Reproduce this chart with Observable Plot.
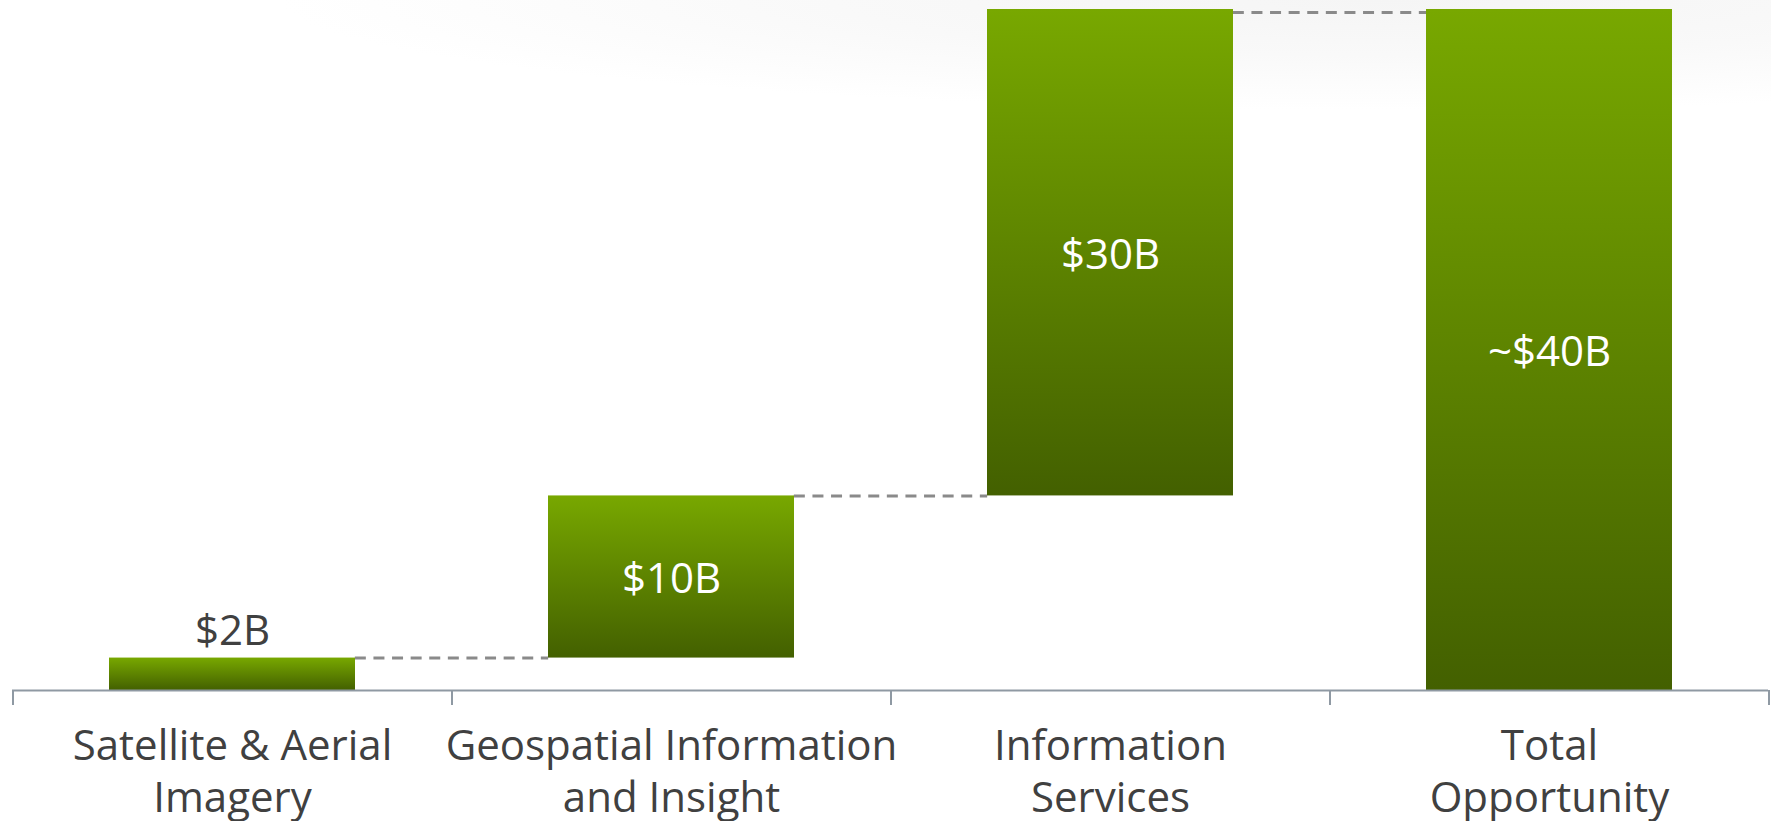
<!DOCTYPE html>
<html><head><meta charset="utf-8">
<script src="https://cdn.jsdelivr.net/npm/d3@7"></script>
<script src="https://cdn.jsdelivr.net/npm/@observablehq/plot@0.6"></script>
<style>
html,body{margin:0;padding:0;background:#fff;}
#chart{width:1771px;height:821px;background: radial-gradient(ellipse 1100px 110px at 78% 0px, #f5f5f5 0%, #f9f9f9 50%, rgba(255,255,255,0) 100%), #fff;}
#chart svg{display:block;}
</style></head><body><div id="chart"></div>
<script>
// ---- data ----
const categories = ["Satellite & Aerial\nImagery", "Geospatial Information\nand Insight", "Information\nServices", "Total\nOpportunity"];
const segmentValues = [2, 10, 30];
const totalValue = 42;
const valueLabels = ["$2B", "$10B", "$30B", "~$40B"];

// ---- layout / style ----
const W = 1771, H = 821, mT = 9, mB = 131, mL = 12, mR = 3;
const padInner = 0.44;
const step = (W - mL - mR) / categories.length;
const bandW = step * (1 - padInner);
const textColor = "#404040";
const fontSize = 42;
const axisColor = "#8f99a3";

// build waterfall rows
let run = 0;
const rows = segmentValues.map((v, i) => {
  const r = {cat: categories[i], y1: run, y2: run + v, label: valueLabels[i]};
  run += v;
  return r;
});
rows.push({cat: categories[3], y1: 0, y2: totalValue, label: valueLabels[3]});

const connectors = rows.slice(0, -1).map((r, i) => ({from: r.cat, to: rows[i + 1].cat, level: r.y2}));
const lowConnectors = connectors.filter(c => c.level < totalValue);
const topConnectors = connectors.filter(c => c.level >= totalValue);
const insideRows = rows.filter(r => r.y2 - r.y1 >= 5);
const outsideRows = rows.filter(r => r.y2 - r.y1 < 5);
const dashStyle = {x1: "from", x2: "to", y: "level", stroke: "#8a8a8a", strokeWidth: 3, strokeDasharray: "11,7.6", insetLeft: bandW, insetRight: bandW};

const chart = Plot.plot({
  width: W, height: H,
  marginTop: mT, marginBottom: mB, marginLeft: mL, marginRight: mR,
  style: {background: "transparent", fontFamily: "'Open Sans', sans-serif", overflow: "visible"},
  x: {type: "band", domain: categories, paddingInner: padInner, paddingOuter: padInner / 2, axis: null},
  y: {domain: [0, totalValue], axis: null},
  marks: [
    Plot.ruleY(lowConnectors, {...dashStyle, dy: 0}),
    Plot.ruleY(topConnectors, {...dashStyle, dy: 3}),
    Plot.barY(rows, {x: "cat", y1: "y1", y2: "y2", fill: "url(#barGrad)"}),
    Plot.ruleY([0], {stroke: axisColor, strokeWidth: 2}),
    Plot.ruleX(categories, {x: d => d, dx: -step / 2, stroke: axisColor, strokeWidth: 2, insetTop: H - mT - mB, insetBottom: -15}),
    Plot.ruleX(categories.slice(-1), {x: d => d, dx: step / 2, stroke: axisColor, strokeWidth: 2, insetTop: H - mT - mB, insetBottom: -15}),
    Plot.text(insideRows, {x: "cat", y: d => (d.y1 + d.y2) / 2, text: "label", fill: "white", fontSize, lineAnchor: "middle", dy: 3}),
    Plot.text(outsideRows, {x: "cat", y: "y2", text: "label", fill: textColor, fontSize, lineAnchor: "bottom", dy: -13}),
    Plot.text(categories, {x: d => d, y: () => 0, text: d => d, fill: textColor, fontSize, lineAnchor: "top", lineHeight: 1.23, dy: 33})
  ]
});

d3.select(chart).insert("defs", ":first-child").html(
  '<linearGradient id="barGrad" x1="0" y1="0" x2="0" y2="1">' +
  '<stop offset="0" stop-color="#78a800"/><stop offset="1" stop-color="#436000"/></linearGradient>'
);
document.getElementById("chart").appendChild(chart);
</script></body></html>
